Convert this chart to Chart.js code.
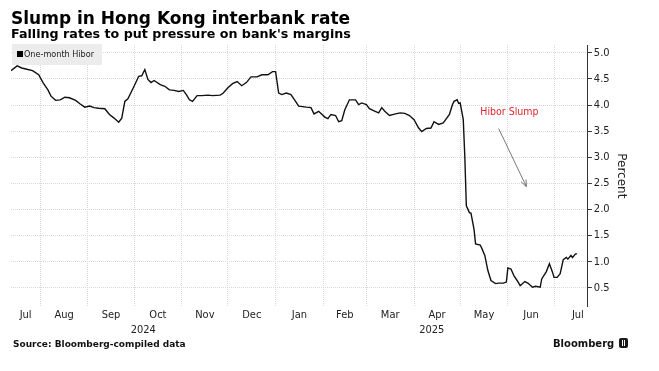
<!DOCTYPE html>
<html>
<head>
<meta charset="utf-8">
<script src="https://cdn.jsdelivr.net/npm/chart.js@4"></script>
<style>
  html, body { margin: 0; padding: 0; background: #fff; }
  #wrap { position: relative; width: 659px; height: 371px; overflow: hidden; }
  #grafico { position: absolute; left: 0; top: 0; }
  .txt { position: absolute; white-space: nowrap; line-height: 1; color: #000; }
  #titulo { left: 11px; top: 8px; font: bold 17px 'DejaVu Sans', sans-serif; }
  #subtitulo { left: 11px; top: 26px; font: bold 12.7px 'DejaVu Sans', sans-serif; }
  #legenda { position: absolute; left: 12px; top: 44px; width: 90px; height: 21px; background: #ececec; }
  #legenda .quad { position: absolute; left: 5px; top: 7px; width: 6px; height: 6px; background: #000; }
  #legenda .rot { position: absolute; left: 12px; top: 5px; font: 9px 'DejaVu Sans Condensed', 'DejaVu Sans', sans-serif; color: #222; white-space: nowrap; }
  #fonte { left: 13px; top: 339px; font: bold 9px 'DejaVu Sans', sans-serif; color: #111; }
  #marca { left: 553px; top: 338px; font: bold 10px 'DejaVu Sans', sans-serif; color: #111; }
  #icone { position: absolute; left: 619px; top: 338px; width: 9px; height: 10px; background: #1a1a1a; border-radius: 2px; }
  #icone i { position: absolute; top: 2px; width: 1px; height: 6px; background: #fff; }
</style>
</head>
<body>
<div id="wrap">
  <canvas id="grafico" width="659" height="371"></canvas>
  <div class="txt" id="titulo">Slump in Hong Kong interbank rate</div>
  <div class="txt" id="subtitulo">Falling rates to put pressure on bank's margins</div>
  <div id="legenda"><span class="quad"></span><span class="rot">One-month Hibor</span></div>
  <div class="txt" id="fonte">Source: Bloomberg-compiled data</div>
  <div class="txt" id="marca">Bloomberg</div>
  <div id="icone"><i style="left:3px"></i><i style="left:5px"></i></div>
</div>
<script>
// one-month Hibor, %
const datas = [
  '2024-07-13', '2024-07-17', '2024-07-20', '2024-07-24', '2024-07-27', '2024-07-31',
  '2024-08-03', '2024-08-06', '2024-08-08', '2024-08-11', '2024-08-14', '2024-08-17',
  '2024-08-20', '2024-08-24', '2024-08-27', '2024-08-30', '2024-09-02', '2024-09-05',
  '2024-09-08', '2024-09-12', '2024-09-15', '2024-09-18', '2024-09-21', '2024-09-23',
  '2024-09-25', '2024-09-27', '2024-10-01', '2024-10-04', '2024-10-06', '2024-10-08',
  '2024-10-10', '2024-10-12', '2024-10-14', '2024-10-18', '2024-10-21', '2024-10-24',
  '2024-10-27', '2024-10-30', '2024-11-02', '2024-11-04', '2024-11-06', '2024-11-08',
  '2024-11-11', '2024-11-14', '2024-11-18', '2024-11-21', '2024-11-26', '2024-11-28',
  '2024-12-01', '2024-12-04', '2024-12-07', '2024-12-10', '2024-12-13', '2024-12-16',
  '2024-12-20', '2024-12-23', '2024-12-27', '2024-12-30', '2025-01-01', '2025-01-03',
  '2025-01-05', '2025-01-08', '2025-01-11', '2025-01-14', '2025-01-16', '2025-01-21',
  '2025-01-24', '2025-01-26', '2025-01-29', '2025-02-02', '2025-02-04', '2025-02-06',
  '2025-02-09', '2025-02-11', '2025-02-13', '2025-02-15', '2025-02-18', '2025-02-22',
  '2025-02-24', '2025-02-26', '2025-03-01', '2025-03-03', '2025-03-06', '2025-03-09',
  '2025-03-11', '2025-03-13', '2025-03-16', '2025-03-20', '2025-03-23', '2025-03-26',
  '2025-03-29', '2025-04-01', '2025-04-04', '2025-04-06', '2025-04-09', '2025-04-12',
  '2025-04-14', '2025-04-17', '2025-04-20', '2025-04-24', '2025-04-26', '2025-04-27',
  '2025-04-29', '2025-04-30', '2025-05-01', '2025-05-03', '2025-05-04', '2025-05-05',
  '2025-05-07', '2025-05-08', '2025-05-10', '2025-05-11', '2025-05-14', '2025-05-15',
  '2025-05-17', '2025-05-19', '2025-05-21', '2025-05-24', '2025-05-26', '2025-05-29',
  '2025-05-31', '2025-06-01', '2025-06-03', '2025-06-05', '2025-06-07', '2025-06-09',
  '2025-06-12', '2025-06-14', '2025-06-17', '2025-06-19', '2025-06-22', '2025-06-23',
  '2025-06-26', '2025-06-28', '2025-06-30', '2025-07-01', '2025-07-03', '2025-07-05',
  '2025-07-07', '2025-07-09', '2025-07-10', '2025-07-12', '2025-07-13', '2025-07-15',
  '2025-07-16'
];
const hibor = [
  4.66, 4.75, 4.71, 4.68, 4.66, 4.58,
  4.42, 4.29, 4.17, 4.09, 4.10, 4.15,
  4.14, 4.09, 4.02, 3.96, 3.98, 3.95,
  3.94, 3.93, 3.82, 3.75, 3.67, 3.75,
  4.07, 4.12, 4.36, 4.55, 4.56, 4.68,
  4.49, 4.43, 4.47, 4.39, 4.36, 4.29,
  4.28, 4.26, 4.28, 4.20, 4.10, 4.07,
  4.18, 4.18, 4.19, 4.18, 4.19, 4.23,
  4.33, 4.41, 4.45, 4.37, 4.43, 4.54,
  4.54, 4.58, 4.58, 4.64, 4.64, 4.23,
  4.20, 4.23, 4.20, 4.07, 3.98, 3.96,
  3.95, 3.83, 3.88, 3.77, 3.74, 3.82,
  3.80, 3.68, 3.70, 3.91, 4.10, 4.10,
  4.01, 4.04, 4.01, 3.93, 3.89, 3.85,
  3.95, 3.88, 3.80, 3.83, 3.85, 3.84,
  3.80, 3.72, 3.56, 3.49, 3.55, 3.56,
  3.68, 3.63, 3.66, 3.82, 4.01, 4.07,
  4.10, 4.03, 4.04, 3.72, 3.02, 2.07,
  1.94, 1.93, 1.62, 1.34, 1.32, 1.26,
  1.12, 0.83, 0.64, 0.58, 0.59, 0.59,
  0.61, 0.88, 0.86, 0.73, 0.64, 0.54,
  0.62, 0.59, 0.51, 0.53, 0.51, 0.67,
  0.81, 0.96, 0.80, 0.70, 0.70, 0.77,
  1.04, 1.08, 1.05, 1.12, 1.08, 1.15,
  1.15
];

// month boundaries (grid lines) and month names
const meses = ['2024-07-01', '2024-08-01', '2024-09-01', '2024-10-01', '2024-11-01', '2024-12-01',
  '2025-01-01', '2025-02-01', '2025-03-01', '2025-04-01', '2025-05-01', '2025-06-01',
  '2025-07-01', '2025-08-01'];
const nomesMeses = ['Jul', 'Aug', 'Sep', 'Oct', 'Nov', 'Dec', 'Jan', 'Feb', 'Mar', 'Apr', 'May', 'Jun', 'Jul'];
const anos = ['2024', '2025'];
const inicioAnos = ['2024-01-01', '2025-01-01', '2026-01-01'];
const ticksY = [0.5, 1.0, 1.5, 2.0, 2.5, 3.0, 3.5, 4.0, 4.5, 5.0];

const dia = s => Date.UTC(+s.slice(0, 4), +s.slice(5, 7) - 1, +s.slice(8, 10)) / 864e5;

const xMin = dia('2024-07-13');
const xMax = dia('2025-07-23');

const pontos = datas.map((d, i) => ({ x: dia(d), y: hibor[i] }));

const fonteEixo = { family: "'DejaVu Sans Condensed', 'DejaVu Sans', sans-serif", size: 11 };
const corGrade = '#d9d9d9';

// red note + arrow
const nota = {
  id: 'nota',
  afterDatasetsDraw(chart) {
    const { ctx, scales: { x, y } } = chart;
    ctx.save();
    ctx.fillStyle = '#e3262e';
    ctx.font = "10.5px 'DejaVu Sans Condensed', 'DejaVu Sans', sans-serif";
    ctx.textAlign = 'center';
    ctx.textBaseline = 'middle';
    ctx.fillText('Hibor Slump', x.getPixelForValue(dia('2025-06-02')), y.getPixelForValue(3.86));

    const x1 = x.getPixelForValue(dia('2025-05-26')), y1 = y.getPixelForValue(3.55);
    const x2 = x.getPixelForValue(dia('2025-06-13')), y2 = y.getPixelForValue(2.44);
    const ang = Math.atan2(y2 - y1, x2 - x1);
    ctx.strokeStyle = '#555';
    ctx.lineWidth = 0.8;
    ctx.beginPath();
    ctx.moveTo(x1, y1);
    ctx.lineTo(x2, y2);
    ctx.moveTo(x2 - 7 * Math.cos(ang - 0.4), y2 - 7 * Math.sin(ang - 0.4));
    ctx.lineTo(x2, y2);
    ctx.lineTo(x2 - 7 * Math.cos(ang + 0.4), y2 - 7 * Math.sin(ang + 0.4));
    ctx.stroke();
    ctx.restore();
  }
};

new Chart(document.getElementById('grafico'), {
  type: 'line',
  data: {
    datasets: [{
      label: 'One-month Hibor',
      data: pontos,
      borderColor: '#111',
      borderWidth: 1.4,
      pointRadius: 0,
      tension: 0,
      xAxisID: 'x',
      yAxisID: 'y'
    }]
  },
  options: {
    responsive: false,
    animation: false,
    layout: { padding: { left: 11, top: 45, right: 31, bottom: 34 } },
    plugins: { legend: { display: false }, tooltip: { enabled: false } },
    scales: {
      x: {
        type: 'linear',
        position: 'bottom',
        weight: 0,
        min: xMin,
        max: xMax,
        afterBuildTicks: (eixo) => {
          eixo.ticks = meses.map(dia).filter(v => v > xMin && v < xMax).map(v => ({ value: v }));
        },
        ticks: { display: false },
        grid: { color: corGrade, lineWidth: 1, drawTicks: false },
        border: { display: false, dash: [1, 1] }
      },
      xMes: {
        type: 'linear',
        position: 'bottom',
        weight: 1,
        min: xMin,
        max: xMax,
        afterBuildTicks: (eixo) => {
          eixo.ticks = nomesMeses.map((m, i) => {
            const a = Math.max(dia(meses[i]), xMin);
            const b = dia(meses[i + 1]);
            return { value: (a + b) / 2 };
          });
        },
        ticks: {
          callback: (v, i) => nomesMeses[i],
          autoSkip: false,
          maxRotation: 0,
          padding: 2,
          color: '#222',
          font: fonteEixo
        },
        grid: { display: false, drawTicks: false },
        border: { display: false }
      },
      xAno: {
        type: 'linear',
        position: 'bottom',
        weight: 2,
        min: xMin,
        max: xMax,
        afterBuildTicks: (eixo) => {
          eixo.ticks = anos.map((a, i) => {
            const ini = Math.max(dia(inicioAnos[i]), xMin);
            const fim = Math.min(dia(inicioAnos[i + 1]), xMax);
            return { value: (ini + fim) / 2 };
          });
        },
        ticks: {
          callback: (v, i) => anos[i],
          autoSkip: false,
          maxRotation: 0,
          padding: 0,
          color: '#222',
          font: fonteEixo
        },
        grid: { display: false, drawTicks: false },
        border: { display: false }
      },
      y: {
        position: 'right',
        min: 0.14,
        max: 5.15,
        afterBuildTicks: (eixo) => {
          eixo.ticks = ticksY.map(v => ({ value: v }));
        },
        ticks: {
          callback: (v) => v.toFixed(1),
          padding: 2,
          color: '#222',
          font: fonteEixo
        },
        grid: { color: corGrade, lineWidth: 1, tickLength: 4, tickColor: '#333', tickBorderDash: [] },
        border: { display: true, color: '#333', width: 1, dash: [1, 1] },
        title: {
          display: true,
          text: 'Percent',
          color: '#222',
          padding: { top: 0, bottom: 2 },
          font: { family: "'DejaVu Sans', sans-serif", size: 12 }
        }
      }
    }
  },
  plugins: [nota]
});
</script>
</body>
</html>
